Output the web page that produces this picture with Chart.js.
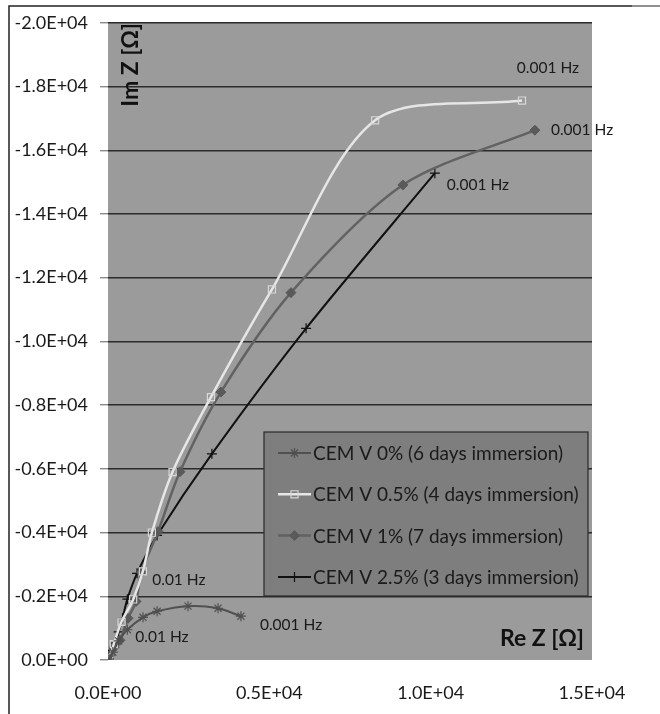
<!DOCTYPE html>
<html>
<head>
<meta charset="utf-8">
<script src="https://cdn.jsdelivr.net/npm/chart.js@4.4.0/dist/chart.umd.min.js"></script>
<style>
  html, body { margin: 0; padding: 0; background: #fff; }
  #wrap { width: 660px; height: 714px; position: relative; }
</style>
</head>
<body>
<div id="wrap"><canvas id="nyquist" width="660" height="714"></canvas></div>
<script>
// Re Z / Im Z in ohm
const re0 = [30, 150, 330, 600, 1085, 1520, 2480, 3410, 4120];
const im0 = [-30, -250, -600, -950, -1340, -1530, -1690, -1625, -1375];

const re05 = [40, 180, 420, 780, 1080, 1360, 2000, 3190, 5080, 8280, 12830];
const im05 = [-60, -500, -1200, -1900, -2780, -4000, -5900, -8250, -11630, -16940, -17560];

const re1 = [60, 190, 370, 620, 870, 1030, 1550, 2230, 3500, 5670, 9140, 13230];
const im1 = [-150, -400, -620, -1310, -1840, -2750, -4030, -5910, -8410, -11530, -14910, -16630];

const re25 = [30, 100, 220, 330, 450, 600, 900, 1520, 3220, 6140, 10130];
const im25 = [-50, -300, -530, -880, -1310, -1910, -2720, -3910, -6470, -10410, -15280];

const seriesNames = [
  "CEM V 0% (6 days immersion)",
  "CEM V 0.5% (4 days immersion)",
  "CEM V 1% (7 days immersion)",
  "CEM V 2.5% (3 days immersion)"
];

const xTicks = [0, 5000, 10000, 15000];
const xTickLabels = ["0.0E+00", "0.5E+04", "1.0E+04", "1.5E+04"];
const yTicks = [0, -2000, -4000, -6000, -8000, -10000, -12000, -14000, -16000, -18000, -20000];
const yTickLabels = ["0.0E+00", "-0.2E+04", "-0.4E+04", "-0.6E+04", "-0.8E+04", "-1.0E+04",
  "-1.2E+04", "-1.4E+04", "-1.6E+04", "-1.8E+04", "-2.0E+04"];

// frequency notes: [series, point index, text]
const freqNotes = [
  [1, 10, "0.001 Hz"],
  [2, 11, "0.001 Hz"],
  [3, 10, "0.001 Hz"],
  [2, 5, "0.01 Hz"],
  [0, 3, "0.01 Hz"],
  [0, 8, "0.001 Hz"]
];
const noteOffsets = [[26, -33, "center"], [16, 0, "left"], [12, 12, "left"],
  [11, 8, "left"], [8, 7, "left"], [19, 9, "left"]];

const FONT = "Lato";

function pts(xs, ys) {
  return xs.map((x, i) => ({ x: x, y: ys[i] }));
}

const datasets = [
  { label: seriesNames[0], data: pts(re0, im0), borderColor: "#505050", borderWidth: 2,
    pointStyle: "star", pointRadius: 5, pointBorderColor: "#505050", pointBorderWidth: 1.2,
    pointBackgroundColor: "#505050" },
  { label: seriesNames[1], data: pts(re05, im05), borderColor: "#e6e6e6", borderWidth: 2.5,
    pointStyle: "rect", pointRadius: 5, pointBorderColor: "#d8d8d8", pointBorderWidth: 1.2,
    pointBackgroundColor: "rgba(0,0,0,0)" },
  { label: seriesNames[2], data: pts(re1, im1), borderColor: "#626262", borderWidth: 2.5,
    pointStyle: "rectRot", pointRadius: 5, pointBorderColor: "#5a5a5a", pointBorderWidth: 1,
    pointBackgroundColor: "#5a5a5a" },
  { label: seriesNames[3], data: pts(re25, im25), borderColor: "#111111", borderWidth: 2,
    pointStyle: "cross", pointRadius: 5, pointBorderColor: "#111111", pointBorderWidth: 1.2,
    pointBackgroundColor: "#111111" }
].map((d) => Object.assign(d, { showLine: true, tension: 0.3, fill: false }));

const plotBackground = {
  id: "plotBackground",
  beforeDraw(chart) {
    const { ctx, chartArea: a } = chart;
    ctx.save();
    ctx.fillStyle = "#9b9b9b";
    ctx.fillRect(a.left, a.top, a.right - a.left, a.bottom - a.top);
    ctx.restore();
  }
};

const extras = {
  id: "extras",
  afterDraw(chart) {
    const { ctx, chartArea: a } = chart;
    const xs = chart.scales.x, ys = chart.scales.y;
    ctx.save();

    // frame around the figure
    ctx.strokeStyle = "#222";
    ctx.lineWidth = 1.5;
    ctx.beginPath();
    ctx.moveTo(9, 714);
    ctx.lineTo(9, 6);
    ctx.lineTo(632, 6);
    ctx.stroke();
    ctx.lineWidth = 1;
    ctx.beginPath();
    ctx.moveTo(632, 6);
    ctx.lineTo(660, 6);
    ctx.stroke();

    // axis titles inside the plot
    ctx.fillStyle = "#111";
    ctx.font = "bold 23px " + FONT;
    ctx.textAlign = "right";
    ctx.textBaseline = "middle";
    ctx.fillText("Re Z [\u03a9]", a.right - 8, 639);
    ctx.save();
    ctx.translate(131, 23);
    ctx.rotate(-Math.PI / 2);
    ctx.textAlign = "right";
    ctx.fillText("Im Z [\u03a9]", 0, 0);
    ctx.restore();

    // frequency notes
    ctx.font = "15.5px " + FONT;
    ctx.fillStyle = "#1a1a1a";
    freqNotes.forEach((n, i) => {
      const d = chart.data.datasets[n[0]].data[n[1]];
      const o = noteOffsets[i];
      ctx.textAlign = o[2];
      ctx.fillText(n[2], xs.getPixelForValue(d.x) + o[0], ys.getPixelForValue(d.y) + o[1]);
    });

    // legend box
    const lx = 264, ly = 432, lw = 324, lh = 164;
    ctx.fillStyle = "#7e7e7e";
    ctx.fillRect(lx, ly, lw, lh);
    ctx.strokeStyle = "#2a2a2a";
    ctx.lineWidth = 1.2;
    ctx.strokeRect(lx, ly, lw, lh);
    ctx.font = "19px " + FONT;
    ctx.textAlign = "left";
    chart.data.datasets.forEach((ds, i) => {
      const cy = 453 + i * 41.3;
      ctx.strokeStyle = ds.borderColor;
      ctx.lineWidth = ds.borderWidth;
      ctx.beginPath();
      ctx.moveTo(278, cy);
      ctx.lineTo(311, cy);
      ctx.stroke();
      ctx.strokeStyle = ds.pointBorderColor;
      ctx.fillStyle = ds.pointBackgroundColor;
      ctx.lineWidth = ds.pointBorderWidth;
      Chart.helpers.drawPoint(ctx, { pointStyle: ds.pointStyle, radius: ds.pointRadius,
        borderWidth: ds.pointBorderWidth, rotation: 0 }, 294.5, cy);
      ctx.fillStyle = "#1a1a1a";
      ctx.fillText(ds.label, 313, cy + 1);
    });

    ctx.restore();
  }
};

new Chart(document.getElementById("nyquist"), {
  type: "scatter",
  data: { datasets },
  options: {
    responsive: false,
    animation: false,
    layout: { padding: { left: 0, top: 20, right: 68, bottom: 0 } },
    plugins: { legend: { display: false }, tooltip: { enabled: false } },
    scales: {
      x: {
        type: "linear",
        min: 0,
        max: 15000,
        afterFit: (s) => { s.height = 54; },
        afterBuildTicks: (s) => { s.ticks = xTicks.map((v) => ({ value: v })); },
        ticks: {
          color: "#1a1a1a",
          font: { family: FONT, size: 18 },
          padding: 22,
          maxRotation: 0,
          callback: (v) => xTickLabels[xTicks.indexOf(v)]
        },
        grid: { display: false, drawTicks: false },
        border: { display: false }
      },
      y: {
        type: "linear",
        min: -20000,
        max: 0,
        reverse: true,
        afterFit: (s) => { s.width = 108; },
        afterBuildTicks: (s) => { s.ticks = yTicks.map((v) => ({ value: v })); },
        ticks: {
          color: "#1a1a1a",
          font: { family: FONT, size: 18 },
          padding: 12,
          callback: (v) => yTickLabels[yTicks.indexOf(v)]
        },
        grid: {
          color: (c) => (c.tick && c.tick.value === 0 ? "rgba(0,0,0,0)" : "#2b2b2b"),
          lineWidth: 1.4,
          tickColor: "#8a8a8a",
          tickLength: 8
        },
        border: { display: false }
      }
    }
  },
  plugins: [plotBackground, extras]
});
</script>
</body>
</html>
